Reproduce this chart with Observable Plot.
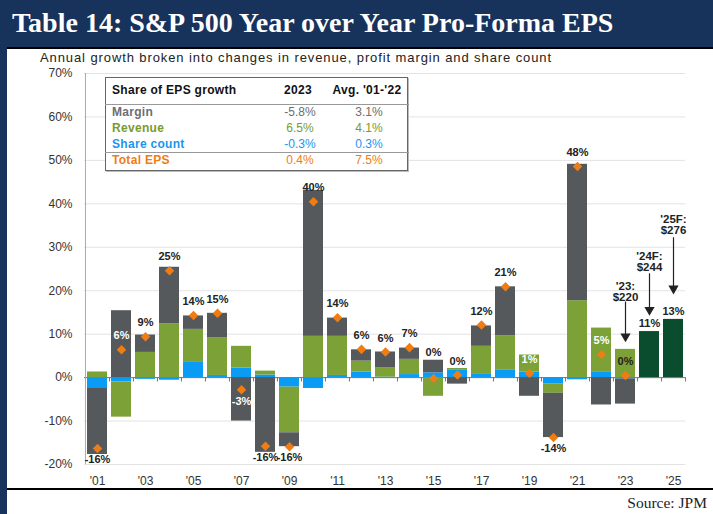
<!DOCTYPE html>
<html><head><meta charset="utf-8">
<script src="https://cdn.jsdelivr.net/npm/d3@7"></script>
<script src="https://cdn.jsdelivr.net/npm/@observablehq/plot@0.6"></script>
<style>
body{margin:0;background:#fff;}
#wrap{position:relative;width:713px;height:514px;overflow:hidden;font-family:"Liberation Sans",Arial,sans-serif;background:#fff;}
#leftbar{position:absolute;left:0;top:0;width:7px;height:514px;background:#17325b;}
#title{position:absolute;left:0;top:0;width:713px;height:47px;background:#17325b;border-bottom:2px solid #000;}
#title span{position:absolute;left:12px;top:7px;color:#fff;font-family:"Liberation Serif","Times New Roman",serif;font-weight:bold;font-size:28px;line-height:32px;white-space:nowrap;}
#subtitle{position:absolute;left:40px;top:50px;font-size:13px;letter-spacing:0.9px;line-height:16px;color:#222;white-space:nowrap;}
#chart{position:absolute;left:0;top:62px;}
#bottomline{position:absolute;left:7px;top:488px;width:706px;height:2px;background:#000;}
#source{position:absolute;right:6px;top:494px;font-family:"Liberation Serif","Times New Roman",serif;font-size:15.5px;line-height:18px;color:#222;}
#legend{position:absolute;left:105px;top:77px;width:301px;height:92px;border:1.5px solid #666;box-shadow:1px 1px 0 #bbb;background:#fff;}
.lt{position:absolute;font-size:12px;line-height:14px;white-space:nowrap;}
.lb{font-weight:bold;letter-spacing:0.3px;}
.lc{text-align:center;width:80px;}
.sep{position:absolute;left:105px;width:304px;height:1px;background:#999;}
</style>
</head><body>
<div id="wrap">
  <div id="title"><span>Table 14: S&amp;P 500 Year over Year Pro-Forma EPS</span></div>
  <div id="leftbar"></div>
  <div id="subtitle">Annual growth broken into changes in revenue, profit margin and share count</div>
  <div id="chart"></div>
  <div id="legend"></div>
  <div id="bottomline"></div>
  <div id="source">Source: JPM</div>
</div>
<script>
// ---- data ----
const years = [2001,2002,2003,2004,2005,2006,2007,2008,2009,2010,2011,2012,2013,2014,2015,2016,2017,2018,2019,2020,2021,2022,2023];
const margin  = [-15.2, 15.4, 4.0, 13.0, 3.1, 5.6, -10.0, -17.2, -3.2, 33.6, 4.2, 2.6, 3.6, 2.6, 2.9, -1.5, 4.7, 11.3, -4.3, -10.2, 31.4, -6.3, -5.8];
const revenue = [1.3, -8.1, 5.8, 12.4, 7.6, 8.7, 5.0, 0.9, -10.5, 9.5, 9.0, 2.5, 2.2, 3.5, -4.3, 0.3, 6.3, 7.8, 3.9, -2.1, 17.7, 10.2, 6.5];
const share   = [-2.5, -1.0, -0.4, -0.6, 3.5, 0.5, 2.2, 0.6, -2.2, -2.5, 0.5, 1.3, 0.1, 0.7, 1.1, 1.8, 0.9, 1.8, 1.3, -1.5, -0.5, 1.2, -0.3];
const totalEPS = [-16.3, 6.4, 9.4, 24.6, 14.3, 14.8, -2.8, -15.8, -15.9, 40.5, 13.8, 6.5, 5.9, 6.9, -0.2, 0.6, 12.1, 20.9, 1.0, -13.8, 48.6, 5.3, 0.5];
const barLabels = ["-16%","6%","9%","25%","14%","15%","-3%","-16%","-16%","40%","14%","6%","6%","7%","0%","0%","12%","21%","1%","-14%","48%","5%","0%"];
const forecastYears = [2024, 2025];
const forecast = [10.6, 13.4];
const forecastLabels = ["11%", "13%"];
const whiteLabelYears = [2002, 2007, 2019, 2022];
const allYears = [2001,2002,2003,2004,2005,2006,2007,2008,2009,2010,2011,2012,2013,2014,2015,2016,2017,2018,2019,2020,2021,2022,2023,2024,2025];
const xTickYears = [2001,2003,2005,2007,2009,2011,2013,2015,2017,2019,2021,2023,2025];
const xTickLabels = ["'01","'03","'05","'07","'09","'11","'13","'15","'17","'19","'21","'23","'25"];
const yTicks = [-20,-10,0,10,20,30,40,50,60,70];
const yTickLabels = ["-20%","-10%","0%","10%","20%","30%","40%","50%","60%","70%"];
const series = ["Share count","Revenue","Margin","Forecast"];
const seriesColors = ["#0a9cf5","#7ca136","#55595c","#0a4d2e"];
// annotations
const annYears = [2023, 2024, 2025];
const annText = ["'23:\n$220", "'24F:\n$244", "'25F:\n$276"];
const annTextY = [19.7, 26.6, 35.2];
const annFrom = [17.4, 23.9, 32.2];
const annTo = [9.5, 15.6, 20.5];
// legend table
const legendRows = ["Margin","Revenue","Share count","Total EPS"];
const legend2023 = ["-5.8%","6.5%","-0.3%","0.4%"];
const legendAvg = ["3.1%","4.1%","0.3%","7.5%"];
const legendColors = ["#6d6e71","#7a9a2e","#1a96f0","#f07c14"];

// ---- build rows ----
const rows = [];
years.forEach((y,i)=>{
  rows.push({year:y, comp:"Share count", value:share[i]});
  rows.push({year:y, comp:"Revenue", value:revenue[i]});
  rows.push({year:y, comp:"Margin", value:margin[i]});
});
forecastYears.forEach((y,i)=>rows.push({year:y, comp:"Forecast", value:forecast[i]}));

const lab = years.map((y,i)=>{
  const posTop = [margin[i],revenue[i],share[i]].filter(v=>v>0).reduce((a,b)=>a+b,0);
  const neg = barLabels[i].startsWith("-");
  let kind, yv;
  if (neg) { kind="below"; yv=totalEPS[i]; }
  else if (totalEPS[i] < 0) { kind="top"; yv=posTop; }
  else { kind="above"; yv=totalEPS[i]; }
  return {year:y, y:yv, text:barLabels[i], kind, white: whiteLabelYears.includes(y)};
});
forecastYears.forEach((y,i)=>lab.push({year:y, y:forecast[i], text:forecastLabels[i], kind:"top", white:false}));
const ann = annYears.map((y,i)=>({year:y, text:annText[i], ty:annTextY[i], from:annFrom[i], to:annTo[i]}));

const half = 12.02;
const txt = (data, dy, fill) => Plot.text(data, {x:"year", y:"y", text:"text", dy, fill, fontWeight:"bold", fontSize:11});

const chart = Plot.plot({
  width: 713, height: 426,
  marginLeft: 84, marginRight: 28, marginTop: 11, marginBottom: 24,
  style: {fontFamily: "Liberation Sans, Arial, sans-serif", fontSize: "12px", color: "#333", background: "transparent", overflow: "visible"},
  x: {type: "band", domain: allYears, paddingInner: 0.17, paddingOuter: 0.085, axis: null, label: null},
  y: {domain: [-20, 70], axis: null, label: null},
  color: {domain: series, range: seriesColors},
  marks: [
    Plot.gridY(yTicks, {stroke: "#e3e3e3", strokeOpacity: 1}),
    Plot.ruleX(allYears, {x: d=>d, y1: 0, y2: -1, dx: -half, stroke: "#777"}),
    Plot.ruleX([2025], {x: d=>d, y1: 0, y2: -1, dx: half, stroke: "#777"}),
    Plot.ruleY([0], {stroke: "#777", strokeWidth: 1}),
    Plot.ruleX([2001], {x: d=>d, y1: -20, y2: 70, dx: -half, stroke: "#aaa"}),
    Plot.barY(rows, {x: "year", y: "value", fill: "comp", order: series}),
    Plot.dot(years.map((y,i)=>({year:y, v:totalEPS[i]})), {x: "year", y: "v", symbol: "diamond2", r: 4.3, fill: "#f07c14", stroke: "none"}),
    txt(lab.filter(d=>d.kind==="above" && !d.white), -14, "#222"),
    txt(lab.filter(d=>d.kind==="above" && d.white), -14, "#fff"),
    txt(lab.filter(d=>d.kind==="below" && !d.white), 11, "#222"),
    txt(lab.filter(d=>d.kind==="below" && d.white), 12, "#fff"),
    txt(lab.filter(d=>d.kind==="top"), -8, "#222"),
    Plot.ruleX(ann, {x: "year", y1: "from", y2: "to", stroke: "#222", strokeWidth: 1.2}),
    Plot.dot(ann, {x: "year", y: "to", symbol: "triangle", rotate: 180, r: 3.8, fill: "#222", stroke: "none"}),
    Plot.text(ann, {x: "year", y: "ty", text: "text", fontWeight: "bold", fontSize: 11.5, lineHeight: 0.95, fill: "#222"}),
    Plot.axisY(yTicks, {tickSize: 0, tickPadding: 12, label: null, tickFormat: (d,i)=>yTickLabels[yTicks.indexOf(d)], fontSize: 12, fill: "#333"}),
    Plot.axisX(xTickYears, {tickSize: 0, tickPadding: 12, label: null, tickFormat: d=>xTickLabels[xTickYears.indexOf(d)], fontSize: 12, fill: "#333"})
  ]
});
document.getElementById("chart").appendChild(chart);

// legend table
const wrap = document.getElementById("wrap");
function addText(t, left, top, cls, color, center){
  const d = document.createElement("div");
  d.className = "lt " + cls;
  d.textContent = t;
  d.style.left = (center ? left - 40 : left) + "px";
  d.style.top = (top - 7) + "px";
  d.style.color = color;
  wrap.appendChild(d);
}
addText("Share of EPS growth", 112, 90, "lb", "#111", false);
addText("2023", 298, 90, "lb lc", "#111", true);
addText("Avg. '01-'22", 367, 90, "lb lc", "#111", true);
const rowY = [112, 128, 144, 160];
legendRows.forEach((r,i)=>{
  addText(r, 112, rowY[i], "lb", legendColors[i], false);
  addText(legend2023[i], 300, rowY[i], "lc", legendColors[i], true);
  addText(legendAvg[i], 369, rowY[i], "lc", legendColors[i], true);
});
[104, 152].forEach(y=>{
  const s = document.createElement("div");
  s.className = "sep"; s.style.top = y + "px";
  wrap.appendChild(s);
});
</script>
</body></html>
